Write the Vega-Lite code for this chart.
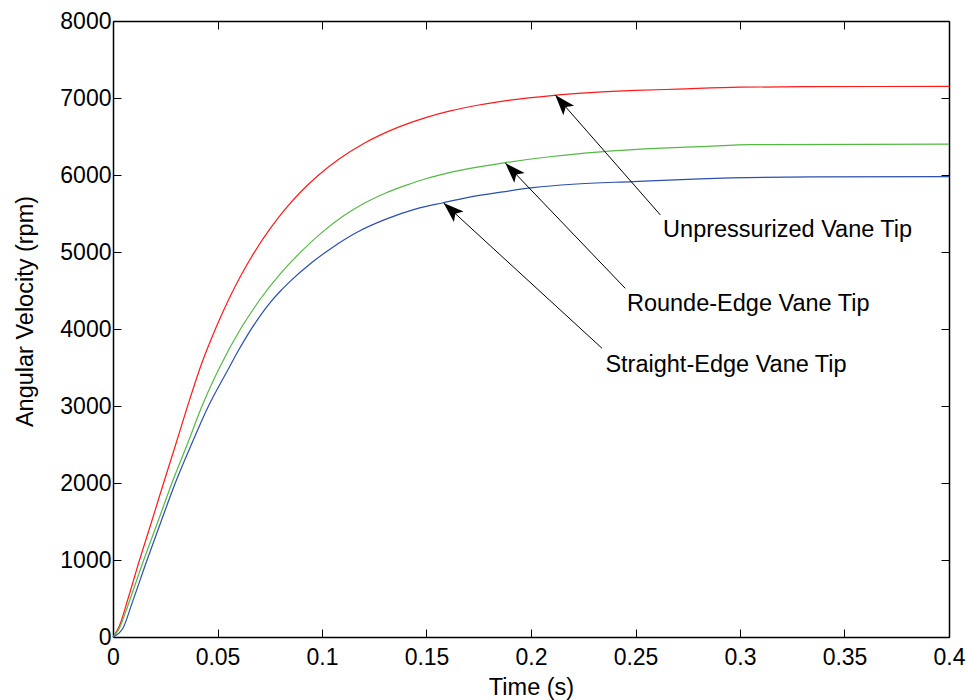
{
  "$schema": "https://vega.github.io/schema/vega-lite/v6.json",
  "width": 836,
  "height": 616,
  "autosize": {"type": "none"},
  "padding": {"left": 113, "top": 21, "right": 20, "bottom": 63},
  "background": "white",
  "config": {"view": {"stroke": null}, "font": "Liberation Sans"},
  "datasets": {
    "curves": [
      {"series": "Unpressurized", "t": 0, "v": 0},
      {"series": "Unpressurized", "t": 0.003, "v": 140},
      {"series": "Unpressurized", "t": 0.007, "v": 480},
      {"series": "Unpressurized", "t": 0.0127, "v": 1000},
      {"series": "Unpressurized", "t": 0.0185, "v": 1500},
      {"series": "Unpressurized", "t": 0.0242, "v": 2000},
      {"series": "Unpressurized", "t": 0.03, "v": 2500},
      {"series": "Unpressurized", "t": 0.0357, "v": 3000},
      {"series": "Unpressurized", "t": 0.042, "v": 3520},
      {"series": "Unpressurized", "t": 0.049, "v": 4000},
      {"series": "Unpressurized", "t": 0.055, "v": 4363},
      {"series": "Unpressurized", "t": 0.061, "v": 4684},
      {"series": "Unpressurized", "t": 0.0673, "v": 4982},
      {"series": "Unpressurized", "t": 0.075, "v": 5297},
      {"series": "Unpressurized", "t": 0.082, "v": 5544},
      {"series": "Unpressurized", "t": 0.09, "v": 5786},
      {"series": "Unpressurized", "t": 0.098, "v": 5991},
      {"series": "Unpressurized", "t": 0.108, "v": 6205},
      {"series": "Unpressurized", "t": 0.12, "v": 6410},
      {"series": "Unpressurized", "t": 0.1375, "v": 6632},
      {"series": "Unpressurized", "t": 0.15, "v": 6749},
      {"series": "Unpressurized", "t": 0.1614, "v": 6832},
      {"series": "Unpressurized", "t": 0.175, "v": 6909},
      {"series": "Unpressurized", "t": 0.19, "v": 6973},
      {"series": "Unpressurized", "t": 0.21, "v": 7032},
      {"series": "Unpressurized", "t": 0.23, "v": 7072},
      {"series": "Unpressurized", "t": 0.25, "v": 7098},
      {"series": "Unpressurized", "t": 0.27, "v": 7115},
      {"series": "Unpressurized", "t": 0.3, "v": 7140},
      {"series": "Unpressurized", "t": 0.33, "v": 7147},
      {"series": "Unpressurized", "t": 0.4, "v": 7150},
      {"series": "Rounde", "t": 0, "v": 0},
      {"series": "Rounde", "t": 0.003, "v": 110},
      {"series": "Rounde", "t": 0.007, "v": 400},
      {"series": "Rounde", "t": 0.0147, "v": 1000},
      {"series": "Rounde", "t": 0.0215, "v": 1500},
      {"series": "Rounde", "t": 0.0282, "v": 2000},
      {"series": "Rounde", "t": 0.0355, "v": 2500},
      {"series": "Rounde", "t": 0.0426, "v": 3000},
      {"series": "Rounde", "t": 0.051, "v": 3500},
      {"series": "Rounde", "t": 0.061, "v": 4000},
      {"series": "Rounde", "t": 0.07, "v": 4370},
      {"series": "Rounde", "t": 0.08, "v": 4715},
      {"series": "Rounde", "t": 0.09, "v": 5005},
      {"series": "Rounde", "t": 0.1, "v": 5255},
      {"series": "Rounde", "t": 0.11, "v": 5465},
      {"series": "Rounde", "t": 0.12, "v": 5630},
      {"series": "Rounde", "t": 0.13, "v": 5760},
      {"series": "Rounde", "t": 0.14, "v": 5865},
      {"series": "Rounde", "t": 0.15, "v": 5955},
      {"series": "Rounde", "t": 0.16, "v": 6025},
      {"series": "Rounde", "t": 0.1877, "v": 6160},
      {"series": "Rounde", "t": 0.21, "v": 6240},
      {"series": "Rounde", "t": 0.2332, "v": 6300},
      {"series": "Rounde", "t": 0.26, "v": 6345},
      {"series": "Rounde", "t": 0.281, "v": 6368},
      {"series": "Rounde", "t": 0.306, "v": 6395},
      {"series": "Rounde", "t": 0.4, "v": 6400},
      {"series": "Straight", "t": 0, "v": 0},
      {"series": "Straight", "t": 0.0048, "v": 117},
      {"series": "Straight", "t": 0.009, "v": 430},
      {"series": "Straight", "t": 0.0163, "v": 1000},
      {"series": "Straight", "t": 0.023, "v": 1500},
      {"series": "Straight", "t": 0.0298, "v": 2000},
      {"series": "Straight", "t": 0.0375, "v": 2500},
      {"series": "Straight", "t": 0.0457, "v": 3000},
      {"series": "Straight", "t": 0.055, "v": 3470},
      {"series": "Straight", "t": 0.06, "v": 3720},
      {"series": "Straight", "t": 0.065, "v": 3950},
      {"series": "Straight", "t": 0.07, "v": 4155},
      {"series": "Straight", "t": 0.075, "v": 4335},
      {"series": "Straight", "t": 0.08, "v": 4490},
      {"series": "Straight", "t": 0.085, "v": 4625},
      {"series": "Straight", "t": 0.095, "v": 4860},
      {"series": "Straight", "t": 0.105, "v": 5060},
      {"series": "Straight", "t": 0.117, "v": 5260},
      {"series": "Straight", "t": 0.13, "v": 5420},
      {"series": "Straight", "t": 0.145, "v": 5560},
      {"series": "Straight", "t": 0.158, "v": 5640},
      {"series": "Straight", "t": 0.17, "v": 5710},
      {"series": "Straight", "t": 0.185, "v": 5775},
      {"series": "Straight", "t": 0.201, "v": 5835},
      {"series": "Straight", "t": 0.22, "v": 5880},
      {"series": "Straight", "t": 0.249, "v": 5915},
      {"series": "Straight", "t": 0.281, "v": 5950},
      {"series": "Straight", "t": 0.335, "v": 5975},
      {"series": "Straight", "t": 0.4, "v": 5980}
    ],
    "notes": [
      {"label": "Unpressurized Vane Tip", "tx": 0.2632, "tv": 5199, "sx": 0.2619, "sv": 5481, "ex": 0.2116, "ev": 7039},
      {"label": "Rounde-Edge Vane Tip", "tx": 0.2459, "tv": 4234, "sx": 0.2451, "sv": 4528, "ex": 0.1877, "ev": 6155},
      {"label": "Straight-Edge Vane Tip", "tx": 0.2356, "tv": 3446, "sx": 0.234, "sv": 3749, "ex": 0.1582, "ev": 5637}
    ]
  },
  "resolve": {"axis": {"x": "independent", "y": "independent"}},
  "layer": [
    {
      "data": {"name": "curves"},
      "mark": {"type": "line", "strokeWidth": 1.2, "interpolate": "monotone"},
      "encoding": {
        "x": {
          "field": "t", "type": "quantitative",
          "scale": {"domain": [0, 0.4], "nice": false, "zero": false},
          "axis": {
            "orient": "bottom", "values": [0, 0.05, 0.1, 0.15, 0.2, 0.25, 0.3, 0.35, 0.4], "format": "~g",
            "grid": false, "domainColor": "black", "domainWidth": 1.5, "tickColor": "black", "tickSize": -8, "tickWidth": 1,
            "labelFont": "Liberation Sans", "labelFontSize": 23, "labelColor": "black", "labelPadding": 17, "labelFlush": false,
            "title": "Time (s)", "titleFont": "Liberation Sans", "titleFontSize": 23.5, "titleFontWeight": "normal", "titleColor": "black",
            "titleBaseline": "alphabetic", "titleY": 57
          }
        },
        "y": {
          "field": "v", "type": "quantitative",
          "scale": {"domain": [0, 8000], "nice": false, "zero": false},
          "axis": {
            "orient": "left", "values": [0, 1000, 2000, 3000, 4000, 5000, 6000, 7000, 8000], "format": "d",
            "grid": false, "domainColor": "black", "domainWidth": 1.5, "tickColor": "black", "tickSize": -8, "tickWidth": 1,
            "labelFont": "Liberation Sans", "labelFontSize": 23, "labelColor": "black", "labelPadding": 10, "labelFlush": false,
            "title": "Angular Velocity (rpm)", "titleFont": "Liberation Sans", "titleFontSize": 23.5, "titleFontWeight": "normal", "titleColor": "black",
            "titleX": -76, "titleY": 290
          }
        },
        "color": {
          "field": "series", "type": "nominal",
          "scale": {"domain": ["Unpressurized", "Rounde", "Straight"], "range": ["#ff1a1a", "#55b845", "#2a4fae"]},
          "legend": null
        },
        "detail": {"field": "series"}
      }
    },
    {
      "data": {"name": "notes"},
      "mark": {"type": "rule", "color": "black", "strokeWidth": 1},
      "encoding": {
        "x": {
          "field": "sx", "type": "quantitative",
          "scale": {"domain": [0, 0.4], "nice": false, "zero": false},
          "axis": {
            "orient": "top", "values": [0, 0.05, 0.1, 0.15, 0.2, 0.25, 0.3, 0.35, 0.4], "labels": false, "title": null,
            "grid": false, "domainColor": "black", "domainWidth": 1.5, "tickColor": "black", "tickSize": -8, "tickWidth": 1
          }
        },
        "y": {
          "field": "sv", "type": "quantitative",
          "scale": {"domain": [0, 8000], "nice": false, "zero": false},
          "axis": {
            "orient": "right", "values": [0, 1000, 2000, 3000, 4000, 5000, 6000, 7000, 8000], "labels": false, "title": null,
            "grid": false, "domainColor": "black", "domainWidth": 1.5, "tickColor": "black", "tickSize": -8, "tickWidth": 1
          }
        },
        "x2": {"field": "ex"},
        "y2": {"field": "ev"}
      }
    },
    {
      "data": {"name": "notes"},
      "transform": [{"filter": "datum.label == 'Unpressurized Vane Tip'"}],
      "mark": {"type": "point", "shape": "M0,0L0.7,2L0,1.55L-0.7,2Z", "size": 420, "filled": true, "color": "black", "opacity": 1, "angle": 318.8},
      "encoding": {
        "x": {"field": "ex", "type": "quantitative", "scale": {"domain": [0, 0.4], "nice": false, "zero": false}, "axis": null},
        "y": {"field": "ev", "type": "quantitative", "scale": {"domain": [0, 8000], "nice": false, "zero": false}, "axis": null}
      }
    },
    {
      "data": {"name": "notes"},
      "transform": [{"filter": "datum.label == 'Rounde-Edge Vane Tip'"}],
      "mark": {"type": "point", "shape": "M0,0L0.7,2L0,1.55L-0.7,2Z", "size": 420, "filled": true, "color": "black", "opacity": 1, "angle": 316.2},
      "encoding": {
        "x": {"field": "ex", "type": "quantitative", "scale": {"domain": [0, 0.4], "nice": false, "zero": false}, "axis": null},
        "y": {"field": "ev", "type": "quantitative", "scale": {"domain": [0, 8000], "nice": false, "zero": false}, "axis": null}
      }
    },
    {
      "data": {"name": "notes"},
      "transform": [{"filter": "datum.label == 'Straight-Edge Vane Tip'"}],
      "mark": {"type": "point", "shape": "M0,0L0.7,2L0,1.55L-0.7,2Z", "size": 420, "filled": true, "color": "black", "opacity": 1, "angle": 312.5},
      "encoding": {
        "x": {"field": "ex", "type": "quantitative", "scale": {"domain": [0, 0.4], "nice": false, "zero": false}, "axis": null},
        "y": {"field": "ev", "type": "quantitative", "scale": {"domain": [0, 8000], "nice": false, "zero": false}, "axis": null}
      }
    },
    {
      "data": {"name": "notes"},
      "mark": {"type": "text", "align": "left", "baseline": "alphabetic", "font": "Liberation Sans", "fontSize": 23.5, "color": "black"},
      "encoding": {
        "x": {"field": "tx", "type": "quantitative", "scale": {"domain": [0, 0.4], "nice": false, "zero": false}, "axis": null},
        "y": {"field": "tv", "type": "quantitative", "scale": {"domain": [0, 8000], "nice": false, "zero": false}, "axis": null},
        "text": {"field": "label"}
      }
    }
  ]
}
